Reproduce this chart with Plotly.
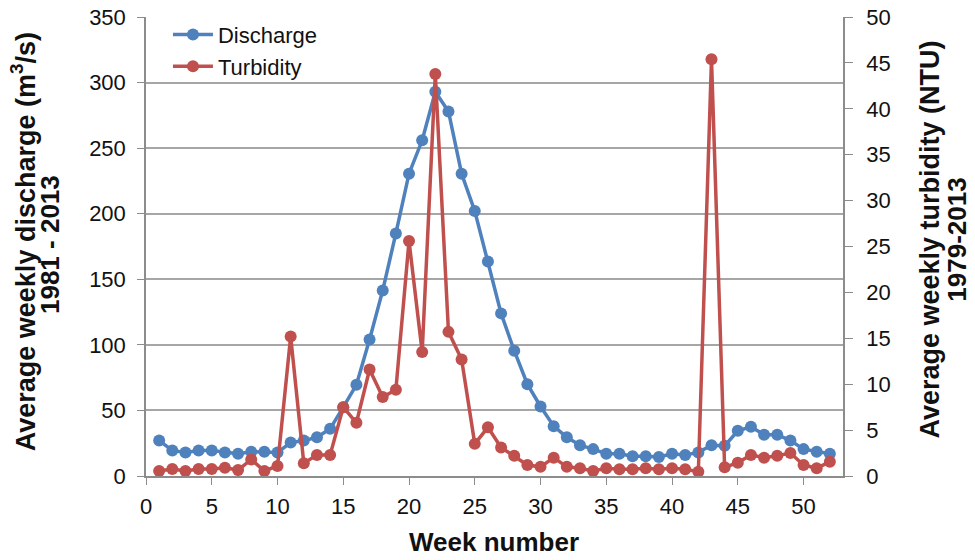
import plotly.graph_objects as go

weeks = list(range(1, 53))
discharge = [27, 19.5, 18, 19.5, 19.5, 18, 17, 18.5, 18.5, 18,
             25.5, 27, 29.5, 36, 52.5, 69.5, 104, 141.5, 185, 230.5,
             256, 293, 278, 230.5, 202, 163.5, 124, 95.5, 70, 53,
             38, 29.5, 23.5, 20.5, 17, 17, 15, 15, 14.5, 17,
             16, 18, 23.5, 23, 34.5, 37.5, 31.5, 31.5, 27, 20.5,
             18.5, 17]
turbidity = [0.55, 0.76, 0.55, 0.76, 0.76, 0.9, 0.65, 1.8, 0.55, 1.1,
             15.2, 1.4, 2.3, 2.3, 7.5, 5.8, 11.6, 8.6, 9.4, 25.6,
             13.5, 43.8, 15.7, 12.7, 3.5, 5.3, 3.1, 2.2, 1.2, 1.0,
             2.0, 1.0, 0.84, 0.55, 0.84, 0.73, 0.73, 0.84, 0.73, 0.84,
             0.73, 0.47, 45.4, 0.95, 1.45, 2.3, 2.0, 2.2, 2.5, 1.2,
             0.84, 1.56]

x_ticks = [0, 5, 10, 15, 20, 25, 30, 35, 40, 45, 50]
left_ticks = [0, 50, 100, 150, 200, 250, 300, 350]
right_ticks = [0, 5, 10, 15, 20, 25, 30, 35, 40, 45, 50]

BLUE = "#4F81BD"
RED = "#C0504D"
FONT = "Liberation Sans, Arial, sans-serif"
TXT = "#111111"

fig = go.Figure()
fig.add_trace(go.Scatter(
    x=weeks, y=discharge, name="Discharge", mode="lines+markers",
    line=dict(color=BLUE, width=3.5), marker=dict(color=BLUE, size=12),
    yaxis="y"))
fig.add_trace(go.Scatter(
    x=weeks, y=turbidity, name="Turbidity", mode="lines+markers",
    line=dict(color=RED, width=3.5), marker=dict(color=RED, size=12),
    yaxis="y2"))

fig.update_layout(
    width=975, height=560,
    margin=dict(l=146, r=132, t=17, b=84, autoexpand=False),
    paper_bgcolor="white", plot_bgcolor="white",
    font=dict(family=FONT, size=22, color=TXT),
    showlegend=True,
    legend=dict(x=0.0315, y=1.007, xanchor="left", yanchor="top",
                bgcolor="rgba(0,0,0,0)", font=dict(size=22, color=TXT),
                itemwidth=40, tracegroupgap=0),
    xaxis=dict(range=[0, 53], tickvals=x_ticks, showgrid=False,
               showline=True, linecolor="#8C8C8C", linewidth=1.5,
               ticks="outside", ticklen=7, tickcolor="#8C8C8C",
               ticklabelstandoff=3,
               tickfont=dict(size=22), zeroline=False),
    yaxis=dict(range=[0, 350], tickvals=left_ticks, showgrid=True,
               gridcolor="#A6A6A6", gridwidth=1.5,
               showline=True, linecolor="#8C8C8C", linewidth=1.5,
               ticks="outside", ticklen=7, tickcolor="#8C8C8C",
               ticklabelstandoff=7,
               tickfont=dict(size=22), zeroline=False),
    yaxis2=dict(range=[0, 50], tickvals=right_ticks, overlaying="y",
                side="right", showgrid=False,
                showline=True, linecolor="#8C8C8C", linewidth=1.5,
                ticks="outside", ticklen=8, tickcolor="#8C8C8C",
                ticklabelstandoff=9,
                tickfont=dict(size=22), zeroline=False),
)

title_font = dict(size=26, color=TXT, family=FONT)
title_font_big = dict(size=27, color=TXT, family=FONT)
# left axis title (two lines)
fig.add_annotation(
    text="<b>Average weekly discharge (m<sup>3</sup>/s)</b>",
    xref="paper", yref="paper", x=-0.176, y=0.510, xanchor="center", yanchor="middle",
    textangle=-90, showarrow=False, font=title_font_big)
fig.add_annotation(
    text="<b>1981 - 2013</b>",
    xref="paper", yref="paper", x=-0.138, y=0.505, xanchor="center", yanchor="middle",
    textangle=-90, showarrow=False, font=title_font)
# right axis title (two lines)
fig.add_annotation(
    text="<b>Average weekly turbidity (NTU)</b>",
    xref="paper", yref="paper", x=1.1256, y=0.514, xanchor="center", yanchor="middle",
    textangle=-90, showarrow=False, font=title_font_big)
fig.add_annotation(
    text="<b>1979-2013</b>",
    xref="paper", yref="paper", x=1.1636, y=0.515, xanchor="center", yanchor="middle",
    textangle=-90, showarrow=False, font=title_font)
# x axis title
fig.add_annotation(
    text="<b>Week number</b>",
    xref="paper", yref="paper", x=0.499, y=-0.1438, xanchor="center", yanchor="middle",
    showarrow=False, font=title_font)

# remove the default 8px page margin so the figure fills the window exactly
fig.write_html("out.html", config={"displayModeBar": False},
               post_script="document.body.style.margin='0px';")
